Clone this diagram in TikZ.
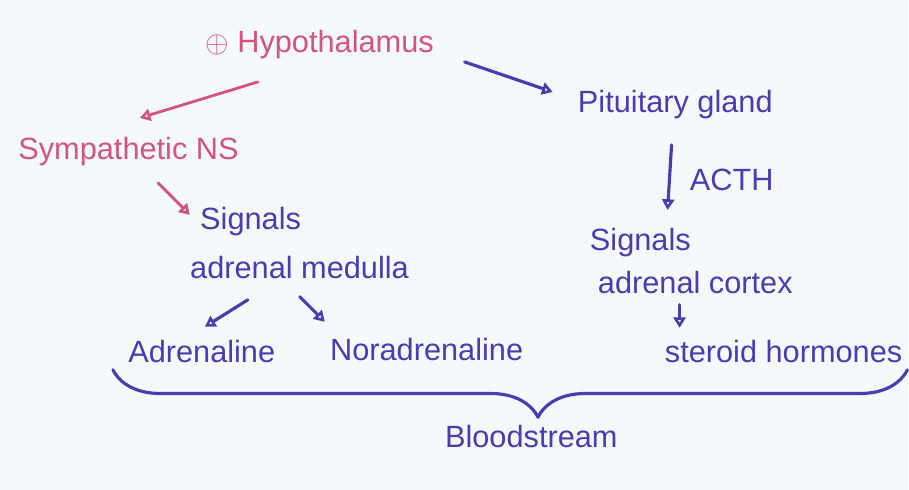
\documentclass[tikz,border=0pt]{standalone}
\usepackage{fontspec}
\setmainfont{Liberation Sans}
\usetikzlibrary{arrows.meta,calc,decorations.pathreplacing}
\definecolor{pinkpen}{RGB}{212,84,128}
\definecolor{bluepen}{RGB}{72,62,178}
\definecolor{board}{RGB}{244,249,251}
\begin{document}
\begin{tikzpicture}[x=0.02cm,y=-0.02cm,>={Triangle[open,length=6pt,width=7pt]},line join=round,line cap=round,font=\fontsize{17.5}{20}\selectfont,
	pk/.style={text=pinkpen,inner sep=0pt,anchor=west},
	bl/.style={text=bluepen,inner sep=0pt,anchor=west},
	pkarr/.style={->,draw=pinkpen,line width=1.6pt},
	blarr/.style={->,draw=bluepen,line width=1.8pt}]
					\fill[board] (0,0) rectangle (909,490);
					\node[pk] (hyp) at (205,45) {$\oplus$ Hypothalamus};
					\node[pk] (sym) at (18,152) {Sympathetic NS};
					\node[bl] (sig1) at (200,222) {Signals};
					\node[bl] (med) at (190,268) {adrenal medulla};
					\node[bl] (pit) at (578,105) {Pituitary gland};
					\node[bl] (acth) at (690,180) {ACTH};
					\node[bl] (sig2) at (590,243) {Signals};
					\node[bl] (cor) at (598,283) {adrenal cortex};
					\node[bl] (adr) at (128,352) {Adrenaline};
					\node[bl] (nor) at (330,350) {Noradrenaline};
					\node[bl] (ste) at (665,352) {steroid hormones};
					\node[bl] (blood) at (445,437) {Bloodstream};
					\draw[pkarr] ($(hyp.west)+(53,37)$) -- ($(sym.west)+(122,-34)$);
					\draw[pkarr] ($(sym.west)+(140,31)$) -- ($(sig1.west)+(-10,-7)$);
					\draw[blarr] ($(hyp.west)+(260,17)$) -- ($(pit.west)+(-25,-13)$);
					\draw[blarr] ($(pit.west)+(94,40)$) -- ($(sig2.west)+(78,-33)$);
					\draw[blarr] ($(med.west)+(58,32)$) -- ($(adr.west)+(77,-25)$);
					\draw[blarr] ($(med.west)+(110,29)$) -- ($(nor.west)+(-5,-28)$);
					\draw[blarr] ($(cor.west)+(82,22)$) -- ($(ste.west)+(15,-24)$);
					\draw[draw=bluepen,line width=1.8pt,decorate,decoration={brace,mirror,amplitude=0.95cm,aspect=0.535}] ($(adr.west)+(-15,18)$) -- ($(ste.west)+(243,18)$);
				\end{tikzpicture}
\end{document}
